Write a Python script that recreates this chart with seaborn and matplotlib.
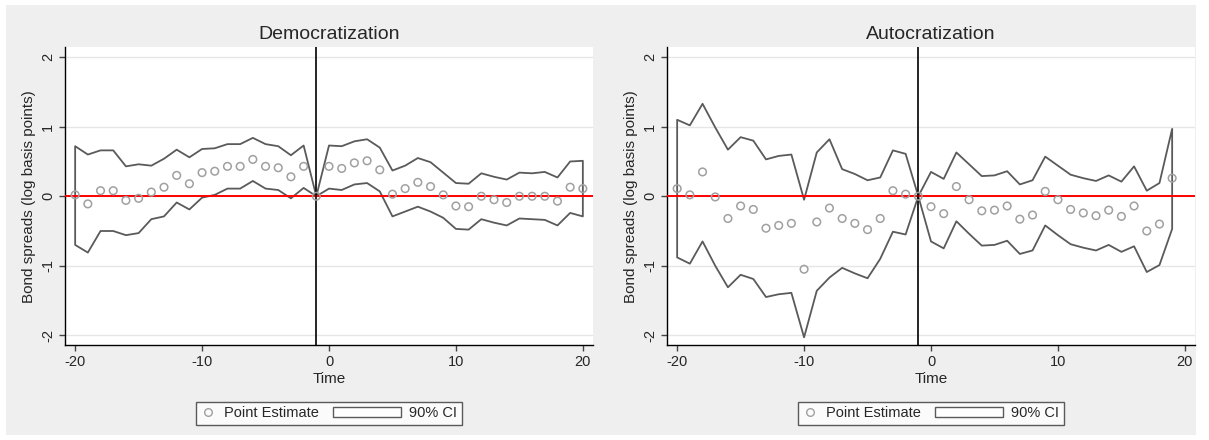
import matplotlib
matplotlib.use("Agg")
import matplotlib.pyplot as plt
import seaborn as sns
import pandas as pd
from matplotlib.lines import Line2D
from matplotlib.patches import Patch, Rectangle
from matplotlib.legend_handler import HandlerPatch

# --- data ---
time_dem = list(range(-20, 21))
dem_est = [0.02, -0.11, 0.08, 0.08, -0.06, -0.03, 0.06, 0.13, 0.30, 0.18,
           0.34, 0.36, 0.43, 0.43, 0.53, 0.43, 0.41, 0.28, 0.43, 0.00,
           0.43, 0.40, 0.48, 0.51, 0.38, 0.03, 0.11, 0.20, 0.14, 0.02,
           -0.14, -0.15, 0.00, -0.05, -0.09, 0.00, 0.00, 0.00, -0.07, 0.13, 0.11]
dem_hi = [0.72, 0.60, 0.66, 0.66, 0.43, 0.46, 0.44, 0.54, 0.67, 0.56,
          0.68, 0.69, 0.75, 0.75, 0.84, 0.75, 0.72, 0.59, 0.73, 0.00,
          0.73, 0.72, 0.79, 0.82, 0.70, 0.37, 0.44, 0.55, 0.49, 0.34,
          0.19, 0.18, 0.33, 0.28, 0.24, 0.34, 0.33, 0.35, 0.27, 0.50, 0.51]
dem_lo = [-0.70, -0.81, -0.50, -0.50, -0.56, -0.53, -0.33, -0.29, -0.09, -0.19,
          -0.02, 0.02, 0.11, 0.11, 0.22, 0.11, 0.09, -0.03, 0.12, 0.00,
          0.11, 0.09, 0.17, 0.19, 0.07, -0.29, -0.22, -0.15, -0.22, -0.31,
          -0.47, -0.48, -0.33, -0.38, -0.42, -0.32, -0.33, -0.34, -0.42, -0.24, -0.29]

time_aut = list(range(-20, 20))
aut_est = [0.11, 0.02, 0.35, -0.01, -0.32, -0.14, -0.19, -0.46, -0.42, -0.39,
           -1.05, -0.37, -0.17, -0.32, -0.39, -0.48, -0.32, 0.08, 0.03, 0.00,
           -0.15, -0.25, 0.14, -0.05, -0.21, -0.20, -0.14, -0.33, -0.27, 0.07,
           -0.05, -0.19, -0.24, -0.28, -0.20, -0.29, -0.14, -0.50, -0.40, 0.26]
aut_hi = [1.10, 1.02, 1.33, 0.99, 0.67, 0.85, 0.80, 0.53, 0.58, 0.60,
          -0.05, 0.63, 0.82, 0.39, 0.32, 0.23, 0.27, 0.66, 0.61, 0.00,
          0.35, 0.25, 0.63, 0.46, 0.29, 0.30, 0.36, 0.17, 0.23, 0.57,
          0.44, 0.31, 0.26, 0.22, 0.30, 0.21, 0.43, 0.08, 0.19, 0.97]
aut_lo = [-0.88, -0.97, -0.65, -1.00, -1.31, -1.13, -1.19, -1.45, -1.41, -1.39,
          -2.03, -1.36, -1.17, -1.03, -1.11, -1.18, -0.90, -0.51, -0.55, 0.00,
          -0.65, -0.75, -0.36, -0.54, -0.71, -0.70, -0.64, -0.83, -0.78, -0.42,
          -0.56, -0.69, -0.74, -0.78, -0.70, -0.80, -0.72, -1.09, -0.99, -0.47]

titles = ["Democratization", "Autocratization"]
y_ticks = [-2, -1, 0, 1, 2]
x_ticks = [-20, -10, 0, 10, 20]
event_time = -1

sns.set_style("white")
plt.rcParams["font.family"] = ["Liberation Sans", "DejaVu Sans"]
plt.rcParams["axes.unicode_minus"] = False

W, H = 1209, 440
fig = plt.figure(figsize=(W / 100, H / 100), dpi=100)
fig.patch.set_facecolor("white")
fig.patches.append(Rectangle((6 / W, 5 / H), 1190 / W, 430 / H, transform=fig.transFigure,
                             facecolor="#efefef", edgecolor="none", zorder=-10))

ci_color = "#5a5a5a"
pt_color = "#a0a0a0"


def wide_rect(legend, orig_handle, xdescent, ydescent, width, height, fontsize):
    # Stata draws the area key as a wide flat box
    extra = 38
    h = 7
    return Rectangle((-xdescent - extra, -ydescent + (height - h) / 2), width + extra, h)


panels = [
    (65, titles[0], time_dem, dem_est, dem_lo, dem_hi),
    (667, titles[1], time_aut, aut_est, aut_lo, aut_hi),
]

for left_px, title, t, est, lo, hi in panels:
    ax = fig.add_axes([left_px / W, 95 / H, 528 / W, 297.5 / H])
    ax.set_facecolor("white")
    df = pd.DataFrame({"time": t, "est": est, "lo": lo, "hi": hi})

    ax.set_xlim(-20.8, 20.8)
    ax.set_ylim(-2.14, 2.14)
    ax.set_yticks(y_ticks)
    ax.set_xticks(x_ticks)
    ax.yaxis.grid(True, color="#e6e6e6", lw=1)
    ax.set_axisbelow(True)

    ax.fill_between(df["time"], df["lo"], df["hi"], facecolor="none",
                    edgecolor=ci_color, lw=1.3, zorder=2)
    ax.axhline(0, color="red", lw=1.4, zorder=3)
    ax.axvline(event_time, color="black", lw=1.2, zorder=3)
    sns.scatterplot(data=df, x="time", y="est", ax=ax, marker="o", s=30,
                    facecolor="none", edgecolor=pt_color, linewidth=1.1, zorder=4)

    for side in ["top", "right"]:
        ax.spines[side].set_visible(False)
    for side in ["left", "bottom"]:
        ax.spines[side].set_color("black")
        ax.spines[side].set_linewidth(1)
    ax.tick_params(axis="both", which="major", length=4, width=1, color="#444444",
                   labelsize=10.5, left=True, bottom=True)
    ax.tick_params(axis="y", pad=3)
    ax.set_yticklabels([str(v) for v in y_ticks], rotation=90, va="center")
    ax.set_xticklabels([str(v) for v in x_ticks])

    ax.set_title(title, fontsize=14, pad=6)
    ax.set_xlabel("Time", fontsize=11, labelpad=2)
    ax.set_ylabel("Bond spreads (log basis points)", fontsize=11, labelpad=4)

    handles = [
        Line2D([], [], marker="o", ls="none", mfc="none", mec=pt_color, mew=1.0, ms=5.5),
        Patch(facecolor="white", edgecolor=ci_color, lw=1),
    ]
    leg = ax.legend(handles, ["Point Estimate", "90% CI"], loc="center",
                    bbox_to_anchor=(0.5, -0.229), ncol=2, frameon=True, fancybox=False,
                    fontsize=10.5, handlelength=1.0, handletextpad=0.6,
                    columnspacing=4.6, borderpad=0.3, borderaxespad=0,
                    handler_map={Patch: HandlerPatch(patch_func=wide_rect)})
    leg.get_frame().set_edgecolor("#333333")
    leg.get_frame().set_linewidth(1)
    leg.get_frame().set_facecolor("white")

fig.savefig("out.png", dpi=100, facecolor=fig.get_facecolor())
